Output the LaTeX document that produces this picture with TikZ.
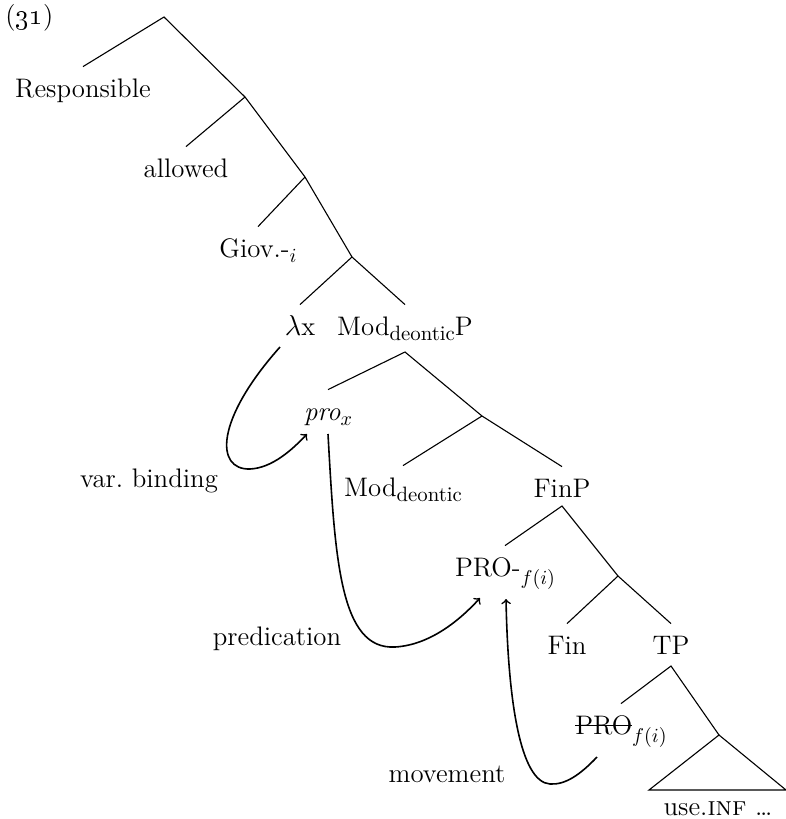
\documentclass[tikz,border=0pt]{standalone}
\newsavebox{\strikebox}
\newcommand{\mystrike}[1]{\sbox{\strikebox}{#1}\rlap{\rule[0.3em]{\wd\strikebox}{0.45pt}}\usebox{\strikebox}}
\newcommand{\lowsub}[2][0.22em]{\raisebox{-#1}{\fontsize{10.4}{12}\selectfont #2}}
\begin{document}
\begin{tikzpicture}[x=0.5pt,y=-0.5pt,
  lbl/.style={anchor=base,inner sep=0pt,text height=15pt,font=\fontsize{13.4}{16}\selectfont},
  free/.style={anchor=base,inner sep=0pt,font=\fontsize{13.4}{16}\selectfont},
  branch/.style={line width=0.55pt},
  relation/.style={line width=0.8pt,->}]
\useasboundingbox (0,0) rectangle (786,819);
% example number
\node[free,anchor=base west] (num) at (5,25) {(\oldstylenums{31})};
% internal points
\coordinate (root) at (164,17);
\coordinate (n2) at (245,97);
\coordinate (n3) at (305,177);
\coordinate (n4) at (352,257);
\coordinate (modpB) at (405,352);
\coordinate (n5) at (482,416);
\coordinate (finpB) at (562,506);
\coordinate (n6) at (618,576);
\coordinate (tpB) at (671,666);
\coordinate (tri) at (719,735);
\coordinate (triL) at (649,790);
\coordinate (triR) at (786,790);
% labels
\node[lbl] (resp) at (83,97) {Responsible};
\node[lbl] (allowed) at (186,177) {allowed};
\node[lbl] (giov) at (258,257) {Giov.-\lowsub{$i$}};
\node[lbl] (lam) at (300,335) {$\lambda$x};
\node[lbl] (modp) at (405,335) {Mod\lowsub{deontic}P};
\node[lbl] (pro) at (328,420) {\textit{pro}\lowsub{$x$}};
\node[lbl] (mod) at (403,496) {Mod\lowsub{deontic}};
\node[lbl] (finp) at (562,497) {FinP};
\node[lbl] (PRO) at (505,576) {PRO-\lowsub[0.32em]{$f(i)$}};
\node[lbl] (fin) at (567,654) {Fin};
\node[lbl] (tp) at (671,654) {TP};
\node[lbl] (PROt) at (621,734) {\mystrike{PRO}\lowsub[0.32em]{$f(i)$}};
\node[free] (use) at (718,815) {use.\textsc{inf} \ldots};
\node[free] (varb) at (149,487) {var.\ binding};
\node[free] (pred) at (277,645) {predication};
\node[free] (mov) at (447,782) {movement};
% branches
\draw[branch] (resp.north) -- (root) -- (n2) -- (n3) -- (n4) -- (modp.north);
\draw[branch] (n2) -- (allowed.north);
\draw[branch] (n3) -- (giov.north);
\draw[branch] (n4) -- (lam.north);
\draw[branch] (pro.north) -- (modpB) -- (n5) -- (finp.north);
\draw[branch] (n5) -- (mod.north);
\draw[branch] (PRO.north) -- (finpB) -- (n6) -- (tp.north);
\draw[branch] (n6) -- (fin.north);
\draw[branch] (PROt.north) -- (tpB) -- (tri);
\draw[branch] (tri) -- (triL) -- (triR) -- cycle;
% relations
\coordinate (vbS) at (280,347);
\coordinate (vbE) at (307,434);
\coordinate (prS) at (328,434);
\coordinate (prE) at (480,598);
\coordinate (mvS) at (597,757);
\coordinate (mvE) at (506,599);
\draw[relation] (vbS) .. controls (215,420) and (215,470) .. (250,469)
  .. controls (272,468) and (292,450) .. (vbE);
\draw[relation] (prS) .. controls (335,560) and (340,650) .. (395,647)
  .. controls (430,645) and (460,620) .. (prE);
\draw[relation] (mvS) .. controls (580,775) and (565,785) .. (550,784)
  .. controls (520,782) and (508,700) .. (mvE);
\end{tikzpicture}
\end{document}
